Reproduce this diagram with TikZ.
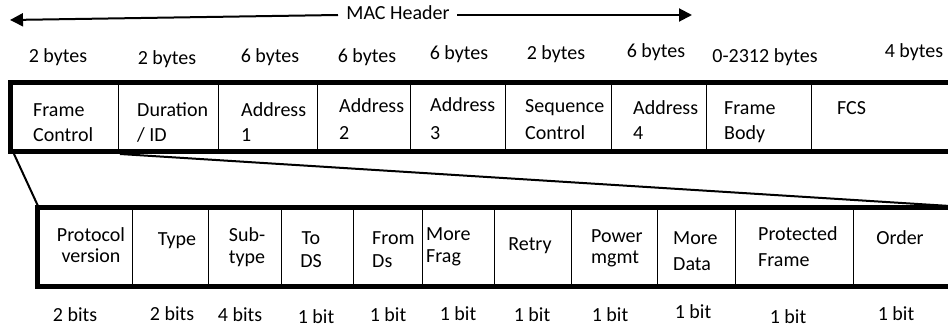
\documentclass[tikz,border=0pt]{standalone}
\usepackage{fontspec}
\setmainfont{Carlito}
\usetikzlibrary{arrows.meta}
\begin{document}
\begin{tikzpicture}[x=1pt,y=-1pt,
  lbl/.style={font=\fontsize{20}{24}\selectfont, inner sep=0pt, anchor=base},
  lw/.style={lbl, anchor=base west},
  frameline/.style={line width=5pt, line join=miter},
  divider/.style={line width=1pt},
  zoomline/.style={line width=2pt},
  macarrow/.style={line width=2pt, -{Triangle[length=13pt,width=13pt]}}]
\useasboundingbox (0,0) rectangle (948,331);

% ---------- MAC header arrow ----------
\node[lbl] (mac) at (398,20) {MAC Header};
\coordinate (macLs) at (338,15);
\coordinate (macLe) at (10,20);
\coordinate (macRs) at (457,15);
\coordinate (macRe) at (692,15);
\draw[macarrow] (macLs) -- (macLe);
\draw[macarrow] (macRs) -- (macRe);

% ---------- byte sizes ----------
\node[lbl] (b1) at (58,63) {2 bytes};
\node[lbl] (b2) at (167,65) {2 bytes};
\node[lbl] (b3) at (270,63) {6 bytes};
\node[lbl] (b4) at (367,63) {6 bytes};
\node[lbl] (b5) at (459,60) {6 bytes};
\node[lbl] (b6) at (556,60) {2 bytes};
\node[lbl] (b7) at (656,58) {6 bytes};
\node[lbl] (b8) at (765,63) {0-2312 bytes};
\node[lbl] (b9) at (914,58) {4 bytes};

% ---------- MAC frame ----------
\draw[frameline] (950,83) -- (10.5,83) -- (10.5,152) -- (950,152);
\foreach \x in {118,218,317,410,505,611,706,811}
  \draw[divider] (\x,83) -- (\x,152);

\node[lw] (fa1) at (33,117) {Frame};
\node[lw] (fa2) at (33,142) {Control};
\node[lw] (fb1) at (137,117) {Duration};
\node[lw] (fb2) at (137,142) {/ ID};
\node[lw] (fc1) at (241,117) {Address};
\node[lw] (fc2) at (241,142) {1};
\node[lw] (fd1) at (339,113) {Address};
\node[lw] (fd2) at (339,140) {2};
\node[lw] (fe1) at (430,112) {Address};
\node[lw] (fe2) at (430,140) {3};
\node[lw] (ff1) at (525,113) {Sequence};
\node[lw] (ff2) at (525,140) {Control};
\node[lw] (fg1) at (633,115) {Address};
\node[lw] (fg2) at (633,140) {4};
\node[lw] (fh1) at (724,115) {Frame};
\node[lw] (fh2) at (724,140) {Body};
\node[lw] (fi1) at (837,115) {FCS};

% ---------- zoom lines ----------
\coordinate (zTL) at (14,154);
\coordinate (zBL) at (38,206);
\coordinate (zTR) at (120,154);
\coordinate (zBR) at (950,206);
\draw[zoomline] (zTL) -- (zBL);
\draw[zoomline] (zTR) -- (zBR);

% ---------- Frame control field ----------
\draw[frameline] (950,207.5) -- (37.5,207.5) -- (37.5,286) -- (950,286);
\foreach \x in {132,208,281,353,422,494,571,657,735,853}
  \draw[divider] (\x,207.5) -- (\x,286);

\node[lbl] (pa1) at (91,242) {Protocol};
\node[lbl] (pa2) at (91,262) {version};
\node[lbl] (pb1) at (177,246) {Type};
\node[lbl] (pc1) at (247,242) {Sub-};
\node[lbl] (pc2) at (247,264) {type};
\node[lbl] (pd1) at (311,245) {To};
\node[lbl] (pd2) at (311,268) {DS};
\node[lw]  (pe1) at (372,245) {From};
\node[lw]  (pe2) at (372,268) {Ds};
\node[lw]  (pf1) at (426,241) {More};
\node[lw]  (pf2) at (426,262) {Frag};
\node[lbl] (pg1) at (530,251) {Retry};
\node[lw]  (ph1) at (591,243) {Power};
\node[lw]  (ph2) at (591,263) {mgmt};
\node[lw]  (pi1) at (673,245) {More};
\node[lw]  (pi2) at (673,270) {Data};
\node[lw]  (pj1) at (758,241) {Protected};
\node[lw]  (pj2) at (758,266) {Frame};
\node[lbl] (pk1) at (900,245) {Order};

% ---------- bit sizes ----------
\node[lbl] (s1) at (75,321) {2 bits};
\node[lbl] (s2) at (172,320) {2 bits};
\node[lbl] (s3) at (240,321) {4 bits};
\node[lbl] (s4) at (316,323) {1 bit};
\node[lbl] (s5) at (388,321) {1 bit};
\node[lbl] (s6) at (458,320) {1 bit};
\node[lbl] (s7) at (532,321) {1 bit};
\node[lbl] (s8) at (610,321) {1 bit};
\node[lbl] (s9) at (693,318) {1 bit};
\node[lbl] (s10) at (788,323) {1 bit};
\node[lbl] (s11) at (896,320) {1 bit};
\end{tikzpicture}
\end{document}
